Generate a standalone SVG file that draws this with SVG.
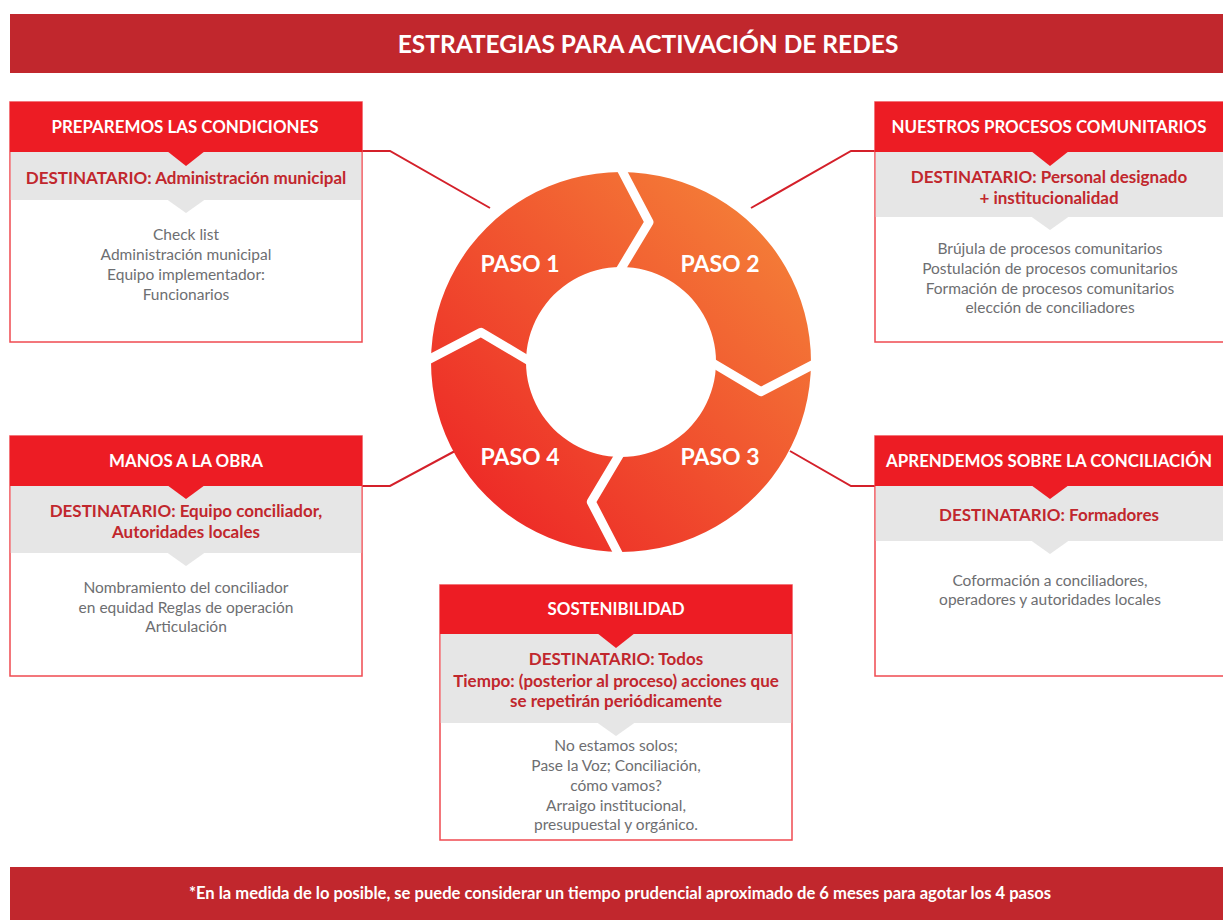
<svg xmlns="http://www.w3.org/2000/svg" width="1223" height="920" viewBox="0 0 1223 920">
  <defs>
    <linearGradient id="ring" x1="431" y1="552" x2="811" y2="172" gradientUnits="userSpaceOnUse">
      <stop offset="0" stop-color="#ec1c24"/>
      <stop offset="1" stop-color="#f58a3a"/>
    </linearGradient>
    <style>
      .banner { fill: #c1272d; }
      .bt { font-family: Lato, "Liberation Sans", sans-serif; font-weight: bold; fill: #ffffff; text-anchor: middle; }
      .frame { fill: #ffffff; stroke: #ef4a50; stroke-width: 1.5; }
      .hdr { fill: #ed1c24; }
      .band { fill: #e6e6e6; }
      .ht { font-family: Lato, "Liberation Sans", sans-serif; font-weight: bold; font-size: 16.9px; fill: #ffffff; text-anchor: middle; }
      .dt { font-family: Lato, "Liberation Sans", sans-serif; font-weight: bold; font-size: 17px; fill: #c1272d; text-anchor: middle; }
      .body { font-family: Lato, "Liberation Sans", sans-serif; font-size: 15.5px; fill: #6d6e71; text-anchor: middle; }
      .conn { fill: none; stroke: #d4202a; stroke-width: 2; }
      .sep { fill: none; stroke: #ffffff; stroke-width: 9; stroke-linejoin: round; }
      .paso { font-family: Lato, "Liberation Sans", sans-serif; font-weight: bold; font-size: 23px; fill: #ffffff; text-anchor: middle; }
    </style>
  </defs>
  <rect width="1223" height="920" fill="#ffffff"/>

  <g id="title">
    <rect class="banner" x="10" y="14" width="1213" height="59"/>
    <text class="bt" x="648" y="53" font-size="24.5">ESTRATEGIAS PARA ACTIVACIÓN DE REDES</text>
  </g>

  <g id="connectors">
    <polyline class="conn" points="362,151 390,151 490,208"/>
    <polyline class="conn" points="875,151 851,151 751,208"/>
    <polyline class="conn" points="362,486 390,486 455,451"/>
    <polyline class="conn" points="875,486 851,486 790,451"/>
  </g>

  <g id="cycle">
    <path fill="url(#ring)" fill-rule="evenodd" d="M621,172 A190,190 0 1,1 620.99,172 Z M621,267 A95,95 0 1,0 621.01,267 Z"/>
    <g class="sep">
      <polyline points="619,165 649,222.1 619,272" />
      <polyline points="818,362 760.9,391.7 711,362" />
      <polyline points="621,559 591.3,501.9 621,452" />
      <polyline points="424,362 481.1,332.3 531,362" />
    </g>
    <text class="paso" x="520" y="272">PASO 1</text>
    <text class="paso" x="720" y="272">PASO 2</text>
    <text class="paso" x="720" y="465">PASO 3</text>
    <text class="paso" x="520" y="465">PASO 4</text>
  </g>

  <g id="paso1-box">
    <rect class="frame" x="10" y="102" width="352" height="240"/>
    <rect class="band" x="10.75" y="152" width="350.5" height="48"/>
    <rect class="hdr" x="10" y="102" width="352" height="50"/>
    <polygon class="hdr" points="167,151 205,151 186,166"/>
    <polygon class="band" points="167,199.5 205,199.5 186,213"/>
    <text class="ht" x="185" y="133">PREPAREMOS LAS CONDICIONES</text>
    <text class="dt" x="186" y="184">DESTINATARIO: Administración municipal</text>
    <text class="body" x="186" y="240">Check list</text>
    <text class="body" x="186" y="260">Administración municipal</text>
    <text class="body" x="186" y="280">Equipo implementador:</text>
    <text class="body" x="186" y="300">Funcionarios</text>
  </g>

  <g id="paso2-box">
    <rect class="frame" x="875" y="102" width="352" height="240"/>
    <rect class="band" x="875.75" y="152" width="350" height="65"/>
    <rect class="hdr" x="875" y="102" width="352" height="50"/>
    <polygon class="hdr" points="1031,151 1069,151 1050,166"/>
    <polygon class="band" points="1031,216.5 1069,216.5 1050,230"/>
    <text class="ht" x="1049" y="133">NUESTROS PROCESOS COMUNITARIOS</text>
    <text class="dt" x="1049" y="183">DESTINATARIO: Personal designado</text>
    <text class="dt" x="1049" y="204">+ institucionalidad</text>
    <text class="body" x="1050" y="254">Brújula de procesos comunitarios</text>
    <text class="body" x="1050" y="274">Postulación de procesos comunitarios</text>
    <text class="body" x="1050" y="294">Formación de procesos comunitarios</text>
    <text class="body" x="1050" y="313">elección de conciliadores</text>
  </g>

  <g id="paso4-box">
    <rect class="frame" x="10" y="436" width="352" height="240"/>
    <rect class="band" x="10.75" y="486" width="350.5" height="67"/>
    <rect class="hdr" x="10" y="436" width="352" height="50"/>
    <polygon class="hdr" points="167,485 205,485 186,499"/>
    <polygon class="band" points="167,552.5 205,552.5 186,566"/>
    <text class="ht" x="186" y="467">MANOS A LA OBRA</text>
    <text class="dt" x="186" y="517">DESTINATARIO: Equipo conciliador,</text>
    <text class="dt" x="186" y="538">Autoridades locales</text>
    <text class="body" x="186" y="593">Nombramiento del conciliador</text>
    <text class="body" x="186" y="613">en equidad Reglas de operación</text>
    <text class="body" x="186" y="632">Articulación</text>
  </g>

  <g id="paso3-box">
    <rect class="frame" x="875" y="436" width="352" height="240"/>
    <rect class="band" x="875.75" y="486" width="350" height="55"/>
    <rect class="hdr" x="875" y="436" width="352" height="50"/>
    <polygon class="hdr" points="1031,485 1069,485 1050,499"/>
    <polygon class="band" points="1031,540.5 1069,540.5 1050,554"/>
    <text class="ht" x="1049" y="467">APRENDEMOS SOBRE LA CONCILIACIÓN</text>
    <text class="dt" x="1049" y="521">DESTINATARIO: Formadores</text>
    <text class="body" x="1050" y="586">Coformación a conciliadores,</text>
    <text class="body" x="1050" y="605">operadores y autoridades locales</text>
  </g>

  <g id="sostenibilidad-box">
    <rect class="frame" x="440" y="585" width="352" height="255"/>
    <rect class="band" x="440.75" y="634" width="350.5" height="89"/>
    <rect class="hdr" x="440" y="585" width="352" height="49"/>
    <polygon class="hdr" points="597,633 635,633 616,648"/>
    <polygon class="band" points="597,722.5 635,722.5 616,736"/>
    <text class="ht" x="616" y="615">SOSTENIBILIDAD</text>
    <text class="dt" x="616" y="665">DESTINATARIO: Todos</text>
    <text class="dt" x="616" y="687">Tiempo: (posterior al proceso) acciones que</text>
    <text class="dt" x="616" y="707">se repetirán periódicamente</text>
    <text class="body" x="616" y="751">No estamos solos;</text>
    <text class="body" x="616" y="771">Pase la Voz; Conciliación,</text>
    <text class="body" x="616" y="791">cómo vamos?</text>
    <text class="body" x="616" y="811">Arraigo institucional,</text>
    <text class="body" x="616" y="830">presupuestal y orgánico.</text>
  </g>

  <g id="footer">
    <rect class="banner" x="10" y="867" width="1213" height="53"/>
    <text class="bt" x="620" y="899" font-size="16.6">*En la medida de lo posible, se puede considerar un tiempo prudencial aproximado de 6 meses para agotar los 4 pasos</text>
  </g>
</svg>
